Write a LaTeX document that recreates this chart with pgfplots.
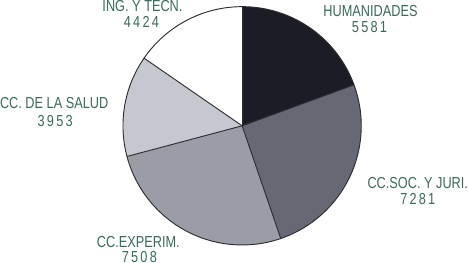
\documentclass[border=0pt]{standalone}
\usepackage{pgfplots}
\pgfplotsset{compat=1.18}
\usepackage{pgfplotstable}
\usepackage{fontspec}
\setmainfont[FakeStretch=0.8]{Liberation Sans}
\definecolor{lab}{HTML}{386B58}
\definecolor{cA}{HTML}{1C1C24}
\definecolor{cB}{HTML}{666874}
\definecolor{cC}{HTML}{9A9CA6}
\definecolor{cD}{HTML}{C6C8D0}
\definecolor{cE}{HTML}{FFFFFF}
\definecolor{edge}{HTML}{2C2C34}
\pgfplotstableread[col sep=comma]{
label,value
HUMANIDADES,5581
CC.SOC. Y JURI.,7281
CC.EXPERIM.,7508
CC. DE LA SALUD,3953
ING. Y TECN.,4424
}\pietable
\pgfplotstablegetelem{0}{value}\of\pietable\let\vA\pgfplotsretval
\pgfplotstablegetelem{1}{value}\of\pietable\let\vB\pgfplotsretval
\pgfplotstablegetelem{2}{value}\of\pietable\let\vC\pgfplotsretval
\pgfplotstablegetelem{3}{value}\of\pietable\let\vD\pgfplotsretval
\pgfplotstablegetelem{4}{value}\of\pietable\let\vE\pgfplotsretval
\pgfmathsetmacro\tot{\vA/1000+\vB/1000+\vC/1000+\vD/1000+\vE/1000}
\pgfmathsetmacro\aA{90}
\pgfmathsetmacro\aB{\aA-0.36*\vA/\tot}
\pgfmathsetmacro\aC{\aB-0.36*\vB/\tot}
\pgfmathsetmacro\aD{\aC-0.36*\vC/\tot}
\pgfmathsetmacro\aE{\aD-0.36*\vD/\tot}
\pgfmathsetmacro\aF{\aE-0.36*\vE/\tot}
\newcommand\ls[1]{{\addfontfeature{LetterSpace=14}#1}}
\begin{document}
\begin{tikzpicture}
\begin{axis}[scale only axis, width=468pt, height=271pt,
  xmin=0, xmax=468, ymin=0, ymax=271, hide axis, clip=false]
\def\cx{244}\def\cy{137}\def\R{116pt}
\fill[cA] (axis cs:\cx,\cy) -- ++(\aA:\R) arc[start angle=\aA, end angle=\aB, radius=\R] -- cycle;
\fill[cB] (axis cs:\cx,\cy) -- ++(\aB:\R) arc[start angle=\aB, end angle=\aC, radius=\R] -- cycle;
\fill[cC] (axis cs:\cx,\cy) -- ++(\aC:\R) arc[start angle=\aC, end angle=\aD, radius=\R] -- cycle;
\fill[cD] (axis cs:\cx,\cy) -- ++(\aD:\R) arc[start angle=\aD, end angle=\aE, radius=\R] -- cycle;
\fill[cE] (axis cs:\cx,\cy) -- ++(\aE:\R) arc[start angle=\aE, end angle=\aF, radius=\R] -- cycle;
\draw[edge, line width=0.9pt] (axis cs:\cx,\cy) circle[radius=\R];
\draw[edge, line width=0.9pt] (axis cs:\cx,\cy) -- ++(\aA:\R);
\draw[edge, line width=0.9pt] (axis cs:\cx,\cy) -- ++(\aB:\R);
\draw[edge, line width=0.9pt] (axis cs:\cx,\cy) -- ++(\aC:\R);
\draw[edge, line width=0.9pt] (axis cs:\cx,\cy) -- ++(\aD:\R);
\draw[edge, line width=0.9pt] (axis cs:\cx,\cy) -- ++(\aE:\R);
\begin{scope}[every node/.style={text=lab, font=\fontsize{15.5}{17}\selectfont, inner sep=0pt, anchor=center}]
\node at (axis cs:369,249) {HUMANIDADES};
\node at (axis cs:368,233) {\ls{5581}};
\node at (axis cs:415,81) {CC.SOC. Y JURI.};
\node at (axis cs:415,66) {\ls{7281}};
\node at (axis cs:143,24) {CC.EXPERIM.};
\node at (axis cs:144,9) {\ls{7508}};
\node at (axis cs:61,159) {CC. DE LA SALUD};
\node at (axis cs:62,142) {\ls{3953}};
\node at (axis cs:147,254) {ING. Y TECN.};
\node at (axis cs:146,238) {\ls{4424}};
\end{scope}
\end{axis}
\end{tikzpicture}
\end{document}
